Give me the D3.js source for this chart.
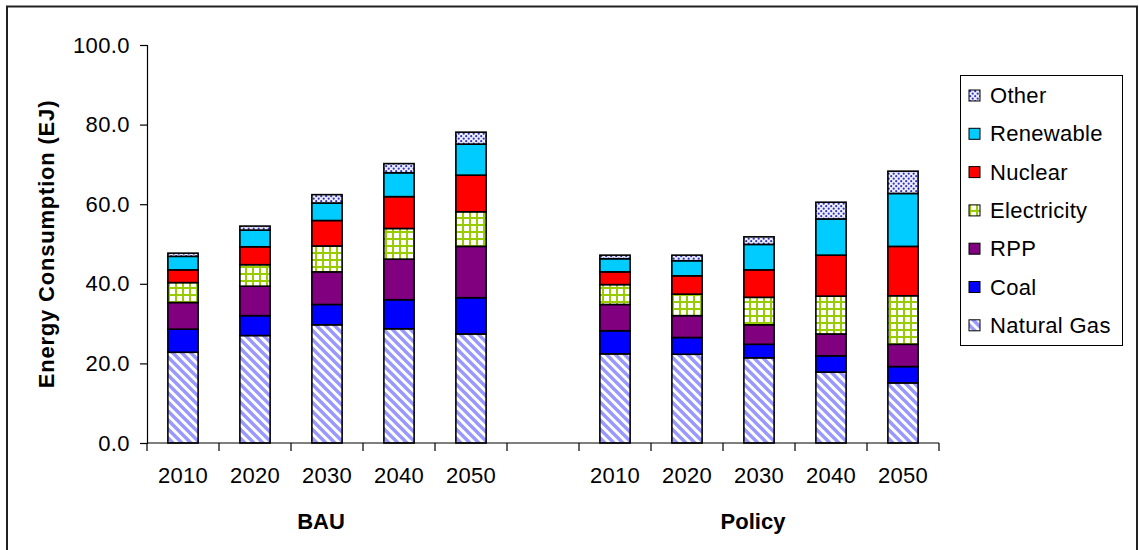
<!DOCTYPE html>
<html>
<head>
<meta charset="utf-8">
<script src="https://cdn.jsdelivr.net/npm/d3@7"></script>
<style>
  html, body { margin: 0; padding: 0; background: #fff; }
  svg { display: block; font-family: "Liberation Sans", Arial, sans-serif; }
</style>
</head>
<body>
<svg id="chart" width="1139" height="550"></svg>
<script>
// Energy consumption by fuel, BAU vs Policy scenario (EJ)
const scenarios = ["BAU", "Policy"];
const years = ["2010", "2020", "2030", "2040", "2050"];
const fuels = ["Natural Gas", "Coal", "RPP", "Electricity", "Nuclear", "Renewable", "Other"];
const yTicks = [0, 20, 40, 60, 80, 100];

const naturalGasBAU = [22.8, 27.0, 29.7, 28.7, 27.4];
const coalBAU       = [5.8, 5.0, 5.1, 7.3, 9.1];
const rppBAU        = [6.7, 7.4, 8.2, 10.2, 12.9];
const electricityBAU = [5.0, 5.4, 6.5, 7.7, 8.7];
const nuclearBAU    = [3.2, 4.5, 6.4, 8.0, 9.2];
const renewableBAU  = [3.4, 4.2, 4.4, 6.0, 7.8];
const otherBAU      = [0.8, 1.0, 2.1, 2.3, 3.0];

const naturalGasPolicy = [22.4, 22.3, 21.4, 17.8, 15.1];
const coalPolicy       = [5.8, 4.2, 3.4, 4.1, 4.1];
const rppPolicy        = [6.6, 5.5, 4.9, 5.5, 5.6];
const electricityPolicy = [5.0, 5.4, 6.9, 9.5, 12.2];
const nuclearPolicy    = [3.2, 4.6, 6.9, 10.3, 12.4];
const renewablePolicy  = [3.3, 3.8, 6.4, 9.1, 13.3];
const otherPolicy      = [0.9, 1.4, 1.9, 4.2, 5.6];

const seriesBAU = [naturalGasBAU, coalBAU, rppBAU, electricityBAU, nuclearBAU, renewableBAU, otherBAU];
const seriesPolicy = [naturalGasPolicy, coalPolicy, rppPolicy, electricityPolicy, nuclearPolicy, renewablePolicy, otherPolicy];

// one row per bar, with an empty slot between the two scenarios
const rows = [];
years.forEach((y, i) => {
  const r = { key: "BAU-" + y, scenario: "BAU", year: y };
  fuels.forEach((f, k) => r[f] = seriesBAU[k][i]);
  rows.push(r);
});
const gapKey = "gap";
years.forEach((y, i) => {
  const r = { key: "Policy-" + y, scenario: "Policy", year: y };
  fuels.forEach((f, k) => r[f] = seriesPolicy[k][i]);
  rows.push(r);
});
const slots = rows.slice(0, 5).map(d => d.key).concat([gapKey], rows.slice(5).map(d => d.key));

const svg = d3.select("#chart");
const margin = { left: 147, right: 200, top: 45, bottom: 107 };
const W = 1139, H = 550;
const FONT = 22;

const x = d3.scaleBand().domain(slots).range([margin.left, W - margin.right]).padding(0);
const y = d3.scaleLinear().domain([0, 100]).range([H - margin.bottom, margin.top]);
const barW = x.bandwidth() * 0.42;

// fill patterns
const defs = svg.append("defs");
const gasPat = defs.append("pattern").attr("id", "pat-gas")
  .attr("patternUnits", "userSpaceOnUse").attr("width", 9).attr("height", 9);
gasPat.append("rect").attr("width", 9).attr("height", 9).attr("fill", "#fff");
gasPat.append("path").attr("d", "M-2,-2 L11,11 M-2,7 L2,11 M7,-2 L11,2")
  .attr("stroke", "#9898ff").attr("stroke-width", 3.4);

const elecPat = defs.append("pattern").attr("id", "pat-elec")
  .attr("patternUnits", "userSpaceOnUse").attr("width", 7).attr("height", 7);
elecPat.append("rect").attr("width", 7).attr("height", 7).attr("fill", "#fff");
elecPat.append("path").attr("d", "M0,1 H7 M1,0 V7")
  .attr("stroke", "#99cc00").attr("stroke-width", 2);

const otherPat = defs.append("pattern").attr("id", "pat-other")
  .attr("patternUnits", "userSpaceOnUse").attr("width", 5).attr("height", 5);
otherPat.append("rect").attr("width", 5).attr("height", 5).attr("fill", "#eef0ff");
otherPat.append("circle").attr("cx", 1.2).attr("cy", 1.2).attr("r", 1.1).attr("fill", "#3333bb");
otherPat.append("circle").attr("cx", 3.7).attr("cy", 3.7).attr("r", 1.1).attr("fill", "#3333bb");

const fills = {
  "Natural Gas": "url(#pat-gas)",
  "Coal": "#0000ff",
  "RPP": "#800080",
  "Electricity": "url(#pat-elec)",
  "Nuclear": "#ff0000",
  "Renewable": "#00ccff",
  "Other": "url(#pat-other)"
};

// outer frame
svg.append("rect").attr("x", 7).attr("y", 6.5).attr("width", 1130).attr("height", 570)
  .attr("fill", "none").attr("stroke", "#222").attr("stroke-width", 2);

// stacked bars
const stack = d3.stack().keys(fuels);
const layers = stack(rows);
svg.append("g").selectAll("g").data(layers).join("g")
  .attr("fill", d => fills[d.key])
  .selectAll("rect").data(d => d).join("rect")
  .attr("x", d => x(d.data.key) + (x.bandwidth() - barW) / 2)
  .attr("width", barW)
  .attr("y", d => y(d[1]))
  .attr("height", d => y(d[0]) - y(d[1]))
  .attr("stroke", "#000").attr("stroke-width", 1.6);

// y axis
const yAxis = svg.append("g").attr("transform", `translate(${margin.left},0)`)
  .call(d3.axisLeft(y).tickValues(yTicks).tickFormat(d3.format(".1f")).tickSize(7).tickPadding(10));
yAxis.select(".domain").attr("stroke", "#000").attr("stroke-width", 1.2);
yAxis.selectAll(".tick line").attr("stroke", "#000").attr("stroke-width", 1.2);
yAxis.selectAll("text").attr("font-size", FONT).attr("fill", "#000")
  .style("font-family", "Liberation Sans, Arial, sans-serif").attr("letter-spacing", 0.4);

// x axis with tick marks between slots
const xAxisG = svg.append("g").attr("transform", `translate(0,${y(0)})`);
xAxisG.append("line").attr("x1", x.range()[0]).attr("x2", x.range()[1])
  .attr("stroke", "#000").attr("stroke-width", 1.2);
const boundaries = slots.map(s => x(s)).concat([x.range()[1]]);
xAxisG.selectAll("line.tk").data(boundaries).join("line").attr("class", "tk")
  .attr("x1", d => d).attr("x2", d => d).attr("y1", 0).attr("y2", 8)
  .attr("stroke", "#000").attr("stroke-width", 1.2);
xAxisG.selectAll("text.yr").data(rows).join("text").attr("class", "yr")
  .attr("x", d => x(d.key) + x.bandwidth() / 2).attr("y", 40)
  .attr("text-anchor", "middle").attr("font-size", FONT).attr("letter-spacing", 0.3)
  .text(d => d.year);

// scenario labels
scenarios.forEach(s => {
  const keys = rows.filter(r => r.scenario === s).map(r => r.key);
  const cx = (x(keys[0]) + x(keys[keys.length - 1]) + x.bandwidth()) / 2 - 6;
  svg.append("text").attr("x", cx).attr("y", y(0) + 86)
    .attr("text-anchor", "middle").attr("font-size", FONT).attr("font-weight", "bold")
    .text(s);
});

// y axis title
svg.append("text")
  .attr("transform", `translate(54,${(y(0) + y(100)) / 2}) rotate(-90)`)
  .attr("text-anchor", "middle").attr("font-size", FONT).attr("font-weight", "bold")
  .attr("letter-spacing", 0.8)
  .text("Energy Consumption (EJ)");

// legend
const legend = svg.append("g");
legend.append("rect").attr("x", 960.5).attr("y", 75.5).attr("width", 162).attr("height", 270)
  .attr("fill", "#fff").attr("stroke", "#000").attr("stroke-width", 1);
const legendOrder = fuels.slice().reverse();
const li = legend.selectAll("g.item").data(legendOrder).join("g").attr("class", "item")
  .attr("transform", (d, i) => `translate(969,${95 + i * 38.3})`);
li.append("rect").attr("x", 0).attr("y", -5).attr("width", 11).attr("height", 11)
  .attr("fill", d => fills[d]).attr("stroke", "#000").attr("stroke-width", 1);
li.append("text").attr("x", 21).attr("y", 8).attr("font-size", FONT).attr("letter-spacing", 0.3)
  .text(d => d);
</script>
</body>
</html>
